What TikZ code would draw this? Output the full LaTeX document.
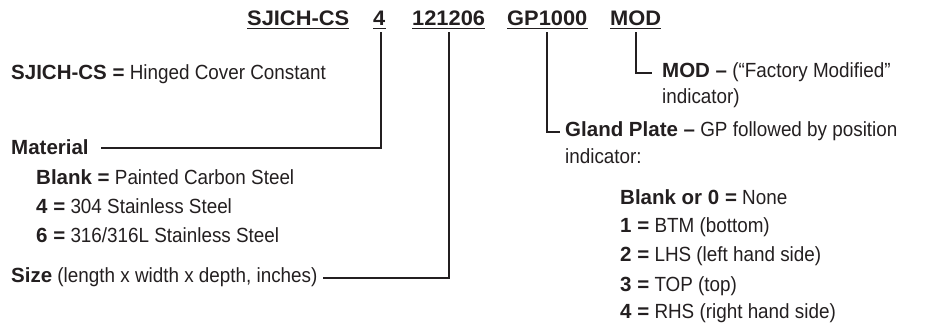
\documentclass[tikz,border=0pt]{standalone}
\usepackage{fontspec}
\setmainfont{Liberation Sans}
\newfontfamily\cond{Liberation Sans}[FakeStretch=0.92]
\newfontfamily\wide{Liberation Sans}[FakeStretch=1.04]
\usetikzlibrary{calc}
\definecolor{ink}{HTML}{231F20}
\begin{document}
\begin{tikzpicture}[x=1pt,y=-1pt,
  code/.style={anchor=base west,inner sep=0pt,font=\fontsize{21}{25}\selectfont\wide\bfseries,text=ink},
  txt/.style={anchor=base west,inner sep=0pt,font=\fontsize{20.5}{24}\selectfont\cond,text=ink},
  conn/.style={draw=ink,line width=2.2pt},
  uline/.style={draw=ink,line width=1.1pt}]
\useasboundingbox (0,0) rectangle (927,323);
% code row
\node[code] (c1) at (247,26) {SJICH-CS};
\node[code] (c2) at (373,26) {4};
\node[code] (c3) at (412,26) {121206};
\node[code] (c4) at (507,26) {GP1000};
\node[code] (c5) at (610,26) {MOD};
\foreach \n in {c1,c2,c3,c4,c5}{
  \draw[uline] ($(\n.base west)+(0,2.8)$) -- ($(\n.base east)+(0,2.8)$);
}
% left descriptions
\newcommand{\bb}[1]{{\fontspec{Liberation Sans}\bfseries #1}}
\node[txt] (l1) at (11,80) {\bb{SJICH-CS =} Hinged Cover Constant};
\node[txt] (mat) at (11,155) {\bb{Material}};
\node[txt] (b1) at (36,185) {\bb{Blank =} Painted Carbon Steel};
\node[txt] (b2) at (36,214) {\bb{4 =} 304 Stainless Steel};
\node[txt] (b3) at (36,243) {\bb{6 =} 316/316L Stainless Steel};
\node[txt] (size) at (11,283) {\bb{Size} (length x width x depth, inches)};
% right descriptions
\node[txt] (mod1) at (662,78) {\bb{MOD –} (“Factory Modified”};
\node[txt] (mod2) at (662,104) {indicator)};
\node[txt] (gl1) at (565,137) {\bb{Gland Plate –} GP followed by position};
\node[txt] (gl2) at (565,164) {indicator:};
\node[txt] (r1) at (620,205) {\bb{Blank or 0 =} None};
\node[txt] (r2) at (620,233) {\bb{1 =} BTM (bottom)};
\node[txt] (r3) at (620,262) {\bb{2 =} LHS (left hand side)};
\node[txt] (r4) at (620,291) {\bb{3 =} TOP (top)};
\node[txt] (r5) at (620,319) {\bb{4 =} RHS (right hand side)};
% connectors
\draw[conn] ($(c2.south)+(1.5,6)$) |- ($(mat.east)+(12,0)$);
\draw[conn] ($(c3.south)+(0,6)$) |- ($(size.east)+(5,0)$);
\draw[conn] ($(c4.south)+(0,6)$) |- ($(gl1.west)+(-5,0)$);
\draw[conn] ($(c5.south)+(0,6)$) |- ($(mod1.west)+(-10,0)$);
\end{tikzpicture}
\end{document}
